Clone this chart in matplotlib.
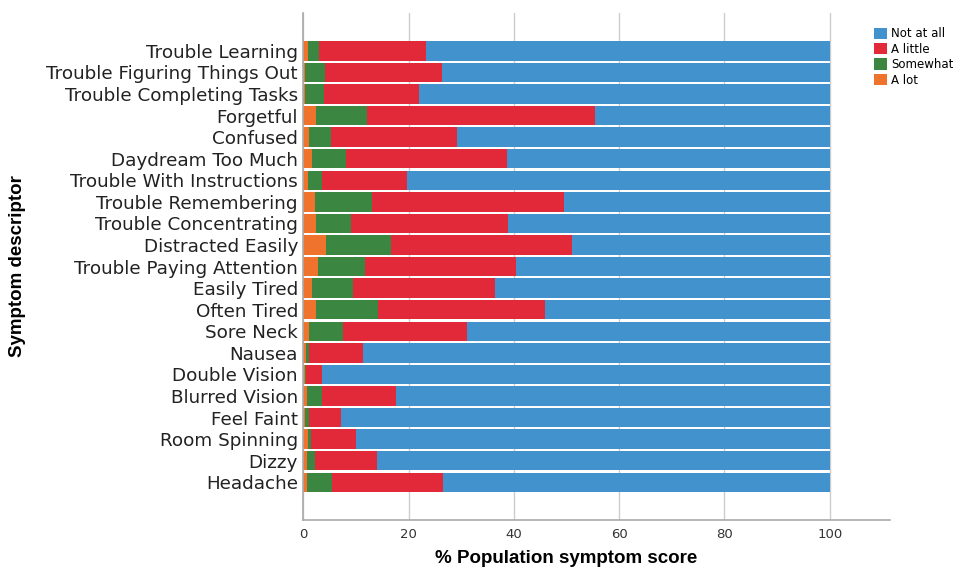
import numpy as np
import matplotlib.pyplot as plt

symptoms = ["Trouble Learning", "Trouble Figuring Things Out", "Trouble Completing Tasks",
            "Forgetful", "Confused", "Daydream Too Much", "Trouble With Instructions",
            "Trouble Remembering", "Trouble Concentrating", "Distracted Easily",
            "Trouble Paying Attention", "Easily Tired", "Often Tired", "Sore Neck",
            "Nausea", "Double Vision", "Blurred Vision", "Feel Faint", "Room Spinning",
            "Dizzy", "Headache"]

# % of population per response level
a_lot = [0.8, 0.3, 0.3, 2.3, 1.0, 1.6, 0.8, 2.1, 2.4, 4.3, 2.7, 1.6, 2.3, 1.0,
         0.5, 0.3, 0.6, 0.3, 0.9, 0.6, 0.6]
somewhat = [2.1, 3.7, 3.6, 9.7, 4.3, 6.4, 2.8, 11.0, 6.7, 12.4, 8.9, 7.8, 11.8, 6.5,
            0.6, 0.2, 2.9, 0.8, 0.6, 1.5, 4.9]
a_little = [20.3, 22.4, 18.0, 43.4, 23.9, 30.7, 16.0, 36.4, 29.7, 34.3, 28.7, 27.0,
            31.8, 23.6, 10.2, 3.1, 14.0, 6.0, 8.4, 11.8, 21.1]
not_at_all = [100 - a - b - c for a, b, c in zip(a_lot, somewhat, a_little)]

levels = ["Not at all", "A little", "Somewhat", "A lot"]
colors = {"Not at all": "#4292ce", "A little": "#e2293a",
          "Somewhat": "#3b8742", "A lot": "#f0732d"}

fig = plt.figure(figsize=(9.65, 5.72), dpi=100)
ax = fig.add_axes([0.3145, 0.091, 0.6075, 0.886])

y = np.arange(len(symptoms))
left = np.zeros(len(symptoms))
handles = {}
for name, vals in [("A lot", a_lot), ("Somewhat", somewhat),
                   ("A little", a_little), ("Not at all", not_at_all)]:
    vals = np.array(vals)
    handles[name] = ax.barh(y, vals, left=left, height=0.9, color=colors[name],
                            edgecolor="none", zorder=2)
    left += vals

ax.set_xlim(0, 111.4)
ax.set_ylim(len(symptoms) - 1 + 1.75, -1.75)
ax.set_yticks(y)
ax.set_yticklabels(symptoms, fontsize=13.2, color="#222222")
ax.set_xticks([0, 20, 40, 60, 80, 100])
ax.tick_params(axis="x", length=0, labelsize=9.5, labelcolor="#333333", pad=6)
ax.tick_params(axis="y", length=0, pad=4)
ax.grid(axis="x", color="#cccccc", linewidth=1, zorder=0)

for s in ["top", "right"]:
    ax.spines[s].set_visible(False)
for s in ["left", "bottom"]:
    ax.spines[s].set_color("#aaaaaa")
    ax.spines[s].set_linewidth(1.2)

ax.set_xlabel("% Population symptom score", fontsize=13.5, fontweight="bold",
              family="Liberation Sans")
ax.xaxis.set_label_coords(50 / 111.4, -0.06)
ax.set_ylabel("Symptom descriptor", fontsize=13.5, fontweight="bold",
              family="Liberation Sans")
ax.yaxis.set_label_coords(-0.474, 0.5)

fig.legend([handles[n] for n in levels], levels, loc="upper left",
           bbox_to_anchor=(0.906, 0.952), frameon=False, fontsize=8.5,
           handlelength=1.1, handleheight=1.1, handletextpad=0.3,
           labelspacing=0.2, borderaxespad=0, borderpad=0)

plt.savefig("out.png", dpi=100)
